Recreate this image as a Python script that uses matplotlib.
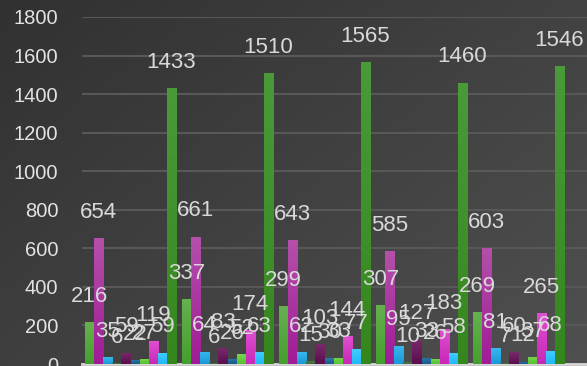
import numpy as np
import matplotlib
matplotlib.use("Agg")
import matplotlib.pyplot as plt
from matplotlib.colors import LinearSegmentedColormap, to_rgb

plt.rcParams['font.family'] = ['Liberation Sans', 'DejaVu Sans']

groups = ["G1", "G2", "G3", "G4", "G5"]
series_names = ["S1", "S2", "S3", "S4", "S5", "S6", "S7", "S8", "S9", "S10"]
s1 = [216, 337, 299, 307, 269]
s2 = [654, 661, 643, 585, 603]
s3 = [35, 64, 62, 95, 81]
s4 = [6, 6, 15, 10, 7]
s5 = [59, 83, 103, 127, 60]
s6 = [22, 26, 30, 33, 12]
s7 = [27, 52, 33, 26, 37]
s8 = [119, 174, 144, 183, 265]
s9 = [59, 63, 77, 58, 68]
s10 = [1433, 1510, 1565, 1460, 1546]
series = [s1, s2, s3, s4, s5, s6, s7, s8, s9, s10]
yticks = [0, 200, 400, 600, 800, 1000, 1200, 1400, 1600, 1800]

# (top colour, bottom colour)
colors = [
    ("#66b050", "#44a02c"),
    ("#b450aa", "#a01c96"),
    ("#38b8ec", "#1a98d8"),
    ("#4a7a48", "#3a6a38"),
    ("#7a2a6a", "#5a0e4e"),
    ("#2a7aa8", "#165a88"),
    ("#78d850", "#58c030"),
    ("#e050d0", "#c828b8"),
    ("#44ccff", "#20b8f8"),
    ("#4a9a3a", "#36861e"),
]

W, H = 587, 366
fig = plt.figure(figsize=(W / 100, H / 100), dpi=100)

# background gradient
bg = fig.add_axes([0, 0, 1, 1])
yy, xx = np.mgrid[0:1:200j, 0:1:300j]
t = 0.55 * xx + 0.45 * yy
c0 = np.array(to_rgb("#313131"))
c1 = np.array(to_rgb("#505050"))
img = c0[None, None, :] * (1 - t[..., None]) + c1[None, None, :] * t[..., None]
bg.imshow(img, aspect='auto', extent=[0, 1, 0, 1], origin='upper')
bg.axis('off')

ax = fig.add_axes([82 / W, 1 - 364 / H, 1 - 82 / W, (364 - 17) / H])
ax.patch.set_alpha(0)

n = len(series)
bw = 0.094
x = np.arange(len(groups))
ax.set_xlim(-0.5, 4.706)
ax.set_ylim(0, 1800)

for i, (vals, (ctop, cbot)) in enumerate(zip(series, colors)):
    xpos = x - 0.5 * n * bw + (i + 0.5) * bw
    bars = ax.bar(xpos, vals, width=bw, color=ctop, zorder=3, linewidth=0)
    cmap = LinearSegmentedColormap.from_list("c%d" % i, [cbot, ctop])
    grad = np.linspace(0, 1, 64).reshape(-1, 1)
    for b in bars:
        bx, by = b.get_x(), b.get_y()
        bwid, bh = b.get_width(), b.get_height()
        im = ax.imshow(grad, cmap=cmap, aspect='auto', origin='lower',
                       extent=[bx, bx + bwid, by, by + bh], zorder=3)
        im.set_clip_path(b)
    for xp, v in zip(xpos, vals):
        ax.annotate(str(v), (xp, v), xytext=(0, 18.5), textcoords='offset points',
                    ha='center', va='center', fontsize=16, color="#d9d9d9", zorder=5)

ax.set_yticks(yticks)
ax.set_yticklabels([str(v) for v in yticks], fontsize=14.5, color="#e2e2e2")
ax.set_xticks([])
ax.tick_params(axis='y', length=0, pad=17)
ax.grid(axis='y', color="#585858", linewidth=1.5, zorder=0)
ax.set_axisbelow(True)
for s in ["top", "right", "left"]:
    ax.spines[s].set_visible(False)
ax.spines["bottom"].set_color("#d8d8d8")
ax.spines["bottom"].set_linewidth(2)

fig.savefig("out.png", dpi=100)
